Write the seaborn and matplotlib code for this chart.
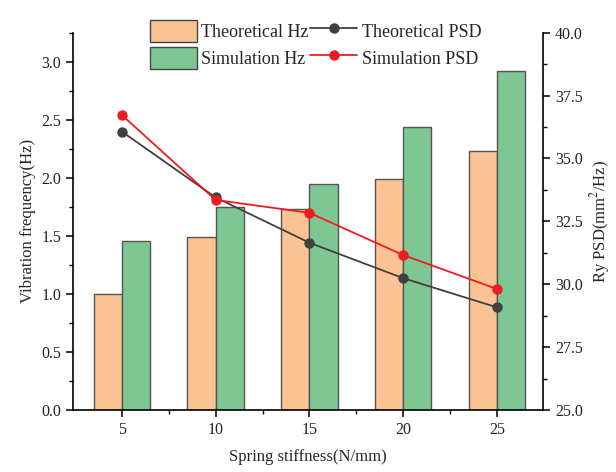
import matplotlib
matplotlib.use("Agg")
import matplotlib.pyplot as plt
import seaborn as sns
import pandas as pd
from matplotlib.ticker import MultipleLocator, FixedLocator
from matplotlib.patches import Patch
from matplotlib.lines import Line2D

stiffness = ["5", "10", "15", "20", "25"]
theoretical_hz = [1.00, 1.49, 1.73, 1.99, 2.23]
simulation_hz = [1.46, 1.75, 1.95, 2.44, 2.92]
theoretical_psd = [36.07, 33.45, 31.65, 30.24, 29.08]
simulation_psd = [36.73, 33.35, 32.84, 31.16, 29.81]

sns.set_theme(style="ticks")
plt.rcParams["font.family"] = ["Liberation Serif", "DejaVu Serif"]
plt.rcParams["mathtext.fontset"] = "stix"

bar_df = pd.DataFrame({
    "stiffness": stiffness * 2,
    "Hz": theoretical_hz + simulation_hz,
    "series": ["Theoretical Hz"] * 5 + ["Simulation Hz"] * 5,
})
psd_df = pd.DataFrame({
    "stiffness": stiffness * 2,
    "psd": theoretical_psd + simulation_psd,
    "series": ["Theoretical PSD"] * 5 + ["Simulation PSD"] * 5,
})

orange = "#F9C393"
green = "#7EC794"
grey = "#404040"
red = "#EE1C22"

fig = plt.figure(figsize=(6.16, 4.72), dpi=100)
ax = fig.add_axes([73 / 616, 1 - 410 / 472, 470 / 616, (410 - 32.7) / 472])

sns.barplot(data=bar_df, x="stiffness", y="Hz", hue="series",
            palette=[orange, green], width=0.6, edgecolor="#555555",
            linewidth=1.0, ax=ax, legend=False, saturation=1)

ax.set_ylim(0, 3.25)
ax.set_xlim(-0.52, 4.49)
ax.yaxis.set_major_locator(MultipleLocator(0.5))
ax.yaxis.set_minor_locator(MultipleLocator(0.25))
ax.xaxis.set_minor_locator(FixedLocator([0.5, 1.5, 2.5, 3.5]))
ax.yaxis.set_major_formatter(plt.FuncFormatter(lambda v, p: f"{v:.1f}"))

ax2 = ax.twinx()
sns.pointplot(data=psd_df, x="stiffness", y="psd", hue="series",
              palette=[grey, red], markers="o", linestyles="-",
              markersize=6.5, linewidth=1.3, ax=ax2, legend=False,
              errorbar=None)
ax2.set_ylim(25, 40)
ax2.set_xlim(-0.52, 4.49)
ax2.yaxis.set_major_locator(MultipleLocator(2.5))
ax2.yaxis.set_minor_locator(MultipleLocator(1.25))
ax2.yaxis.set_major_formatter(plt.FuncFormatter(lambda v, p: f"{v:.1f}"))

for a in (ax, ax2):
    for s in a.spines.values():
        s.set_linewidth(1.2)
        s.set_color("black")
    a.spines["top"].set_visible(False)
    a.tick_params(which="major", length=5, width=1.1, color="black",
                  labelsize=11.5, labelcolor="#222222", direction="out")
    a.tick_params(which="minor", length=3, width=1.0, color="black",
                  direction="out")
ax.spines["right"].set_visible(False)
ax2.spines["left"].set_visible(False)
ax2.spines["bottom"].set_visible(False)

ax.set_xlabel("Spring stiffness(N/mm)", fontsize=12, labelpad=8)
ax.set_ylabel("Vibration frequency(Hz)", fontsize=12, labelpad=4)
ax2.set_ylabel("Ry PSD(mm$^2$/Hz)", fontsize=12, labelpad=4)

handles = [
    Patch(facecolor=orange, edgecolor="#444444", linewidth=1.0),
    Patch(facecolor=green, edgecolor="#444444", linewidth=1.0),
    Line2D([], [], color=grey, marker="o", markersize=6.5, linewidth=1.3),
    Line2D([], [], color=red, marker="o", markersize=6.5, linewidth=1.3),
]
labels = ["Theoretical Hz", "Simulation Hz", "Theoretical PSD", "Simulation PSD"]
fig.legend(handles, labels, ncol=2, loc="upper left",
           bbox_to_anchor=(137 / 616, 1 - 7 / 472), frameon=False,
           fontsize=13, handlelength=2.6, handleheight=1.55,
           handletextpad=0.25, columnspacing=0.1, labelspacing=0.25,
           borderpad=0.2)

fig.savefig("out.png", dpi=100)
